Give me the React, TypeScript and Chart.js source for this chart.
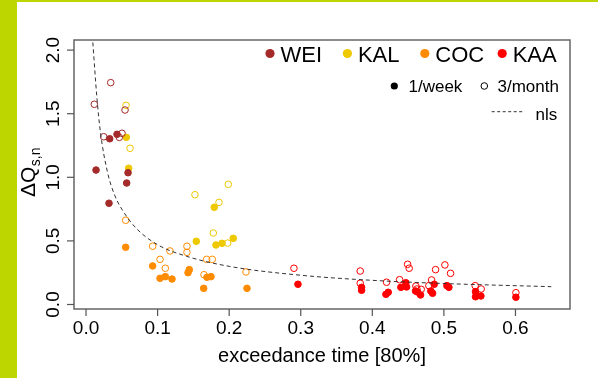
import React, { useEffect, useRef } from "react";
import { Chart, registerables } from "chart.js";

Chart.register(...registerables);

const FONT = '"Liberation Sans", Arial, Helvetica, sans-serif';

// stations and their colours
const SITES = ["WEI", "KAL", "COC", "KAA"];
const SITE_COLORS = ["#A52A2A", "#EEC900", "#FF8C00", "#FF0000"];

// WEI
const weiWeekX = [0.0331, 0.0433, 0.014, 0.0587, 0.0568, 0.0321];
const weiWeekY = [1.303, 1.338, 1.057, 1.036, 0.955, 0.796];
const weiMonthX = [0.0345, 0.0116, 0.0545, 0.0247, 0.0503, 0.0465];
const weiMonthY = [1.744, 1.574, 1.529, 1.319, 1.346, 1.314];

// KAL
const kalWeekX = [0.0563, 0.0596, 0.1792, 0.1541, 0.1816, 0.19, 0.2057];
const kalWeekY = [1.314, 1.071, 0.764, 0.497, 0.468, 0.481, 0.52];
const kalMonthX = [0.0559, 0.0615, 0.1988, 0.1522, 0.1858, 0.1778, 0.1979];
const kalMonthY = [1.566, 1.228, 0.945, 0.863, 0.803, 0.562, 0.483];

// COC
const cocWeekX = [0.0554, 0.0931, 0.1443, 0.1425, 0.1034, 0.1108, 0.1201, 0.169, 0.1746, 0.1644, 0.2249];
const cocWeekY = [0.45, 0.303, 0.274, 0.25, 0.206, 0.219, 0.2, 0.214, 0.219, 0.127, 0.127];
const cocMonthX = [0.0554, 0.0931, 0.1173, 0.141, 0.141, 0.1034, 0.1685, 0.1764, 0.1108, 0.1648, 0.2235];
const cocMonthY = [0.662, 0.458, 0.421, 0.458, 0.41, 0.355, 0.355, 0.355, 0.285, 0.234, 0.256];

// KAA
const kaaWeekX = [
  0.2961, 0.385, 0.385, 0.4222, 0.419, 0.4399, 0.4469, 0.4478, 0.4604, 0.4632,
  0.4674, 0.4865, 0.4818, 0.4842, 0.5042, 0.507, 0.5442, 0.5442, 0.5517, 0.6006,
];
const kaaWeekY = [
  0.159, 0.135, 0.112, 0.096, 0.08, 0.135, 0.171, 0.138, 0.106, 0.098,
  0.075, 0.159, 0.106, 0.088, 0.148, 0.135, 0.101, 0.061, 0.067, 0.057,
];
const kaaMonthX = [
  0.2905, 0.3831, 0.3831, 0.4199, 0.4381, 0.4493, 0.4515, 0.4609, 0.4623,
  0.4683, 0.479, 0.4884, 0.5014, 0.5093, 0.4828, 0.5437, 0.5521, 0.6006,
];
const kaaMonthY = [
  0.285, 0.263, 0.167, 0.175, 0.195, 0.316, 0.285, 0.145, 0.122,
  0.119, 0.148, 0.274, 0.311, 0.245, 0.193, 0.148, 0.122, 0.093,
];

// fitted nls curve
const nlsX = [0.0095, 0.015, 0.02, 0.03, 0.04, 0.05, 0.07, 0.1, 0.14, 0.2, 0.3, 0.4, 0.5, 0.65];
const nlsY = [2.06, 1.64, 1.36, 1.04, 0.86, 0.75, 0.6, 0.47, 0.38, 0.3, 0.23, 0.19, 0.165, 0.14];

const xTicks = [0, 0.1, 0.2, 0.3, 0.4, 0.5, 0.6];
const yTicks = [0, 0.5, 1.0, 1.5, 2.0];

const X_MIN = -0.0168;
const X_MAX = 0.6762;
const Y_MIN = -0.0354;
const Y_MAX = 2.0794;

const zip = (xs: number[], ys: number[]) => xs.map((x, i) => ({ x, y: ys[i] }));

function pointSet(label: string, xs: number[], ys: number[], color: string, filled: boolean) {
  return {
    type: "scatter" as const,
    label,
    data: zip(xs, ys),
    showLine: false,
    pointStyle: "circle",
    pointRadius: 3.3,
    pointHoverRadius: 3.3,
    pointBorderWidth: 1,
    borderColor: color,
    backgroundColor: filled ? color : "rgba(0,0,0,0)",
  };
}

const framePlugin = {
  id: "frame",
  beforeDraw(chart: any) {
    const { ctx, width, height } = chart;
    ctx.save();
    ctx.fillStyle = "#ffffff";
    ctx.fillRect(0, 0, width, height);
    ctx.fillStyle = "#bdd600";
    ctx.fillRect(0, 0, 17, height);
    ctx.fillRect(0, 0, width, 2);
    ctx.restore();
  },
  afterDraw(chart: any) {
    const { ctx, chartArea } = chart;
    const xs = chart.scales.x;
    const ys = chart.scales.y;
    const { left, right, top, bottom } = chartArea;
    ctx.save();

    // plot box
    ctx.strokeStyle = "#666666";
    ctx.lineWidth = 1.5;
    ctx.strokeRect(left, top, right - left, bottom - top);

    // x axis ticks and labels
    ctx.strokeStyle = "#555555";
    ctx.lineWidth = 1.2;
    ctx.fillStyle = "#000000";
    ctx.font = `19px ${FONT}`;
    ctx.textAlign = "center";
    ctx.textBaseline = "alphabetic";
    for (const t of xTicks) {
      const px = xs.getPixelForValue(t);
      ctx.beginPath();
      ctx.moveTo(px, bottom);
      ctx.lineTo(px, bottom + 7);
      ctx.stroke();
      ctx.fillText(t.toFixed(1), px, 333.5);
    }

    // y axis ticks and rotated labels
    for (const t of yTicks) {
      const py = ys.getPixelForValue(t);
      ctx.beginPath();
      ctx.moveTo(left, py);
      ctx.lineTo(left - 7, py);
      ctx.stroke();
      ctx.save();
      ctx.translate(58.5, py);
      ctx.rotate(-Math.PI / 2);
      ctx.fillText(t.toFixed(1), 0, 0);
      ctx.restore();
    }

    // x axis title
    ctx.font = `20px ${FONT}`;
    ctx.fillText("exceedance time [80%]", (left + right) / 2, 361.5);

    // y axis title with subscript
    ctx.save();
    ctx.translate(35, 197);
    ctx.rotate(-Math.PI / 2);
    ctx.textAlign = "left";
    ctx.font = `21px ${FONT}`;
    const main = "\u0394Q";
    ctx.fillText(main, 0, 0);
    const w = ctx.measureText(main).width;
    ctx.font = `14px ${FONT}`;
    ctx.fillText("s,n", w + 0.5, 4.5);
    ctx.restore();

    // legend: stations
    ctx.textAlign = "left";
    ctx.font = `22px ${FONT}`;
    SITES.forEach((s, i) => {
      const cx = 270 + i * 77.4;
      ctx.fillStyle = SITE_COLORS[i];
      ctx.beginPath();
      ctx.arc(cx, 53.5, 4.6, 0, Math.PI * 2);
      ctx.fill();
      ctx.fillStyle = "#000000";
      ctx.fillText(s, cx + 10.5, 62.3);
    });

    // legend: sampling frequency
    ctx.font = `17px ${FONT}`;
    ctx.fillStyle = "#000000";
    ctx.beginPath();
    ctx.arc(394.3, 86, 3.6, 0, Math.PI * 2);
    ctx.fill();
    ctx.fillText("1/week", 408.5, 92.3);
    ctx.strokeStyle = "#000000";
    ctx.lineWidth = 1;
    ctx.beginPath();
    ctx.arc(484.3, 86, 3.3, 0, Math.PI * 2);
    ctx.stroke();
    ctx.fillText("3/month", 497.5, 92.3);

    // legend: fitted curve
    ctx.strokeStyle = "#333333";
    ctx.setLineDash([3, 2.5]);
    ctx.beginPath();
    ctx.moveTo(491.7, 111.7);
    ctx.lineTo(522.7, 111.7);
    ctx.stroke();
    ctx.setLineDash([]);
    ctx.fillText("nls", 535.5, 120);

    ctx.restore();
  },
};

export default function App() {
  const canvasRef = useRef<HTMLCanvasElement | null>(null);

  useEffect(() => {
    const canvas = canvasRef.current;
    if (!canvas) return;
    const chart = new Chart(canvas, {
      type: "scatter",
      data: {
        datasets: [
          {
            type: "line" as const,
            label: "nls",
            data: zip(nlsX, nlsY),
            borderColor: "#333333",
            borderWidth: 1,
            borderDash: [4, 3],
            pointRadius: 0,
            fill: false,
            cubicInterpolationMode: "monotone" as const,
          },
          pointSet("WEI 1/week", weiWeekX, weiWeekY, SITE_COLORS[0], true),
          pointSet("WEI 3/month", weiMonthX, weiMonthY, SITE_COLORS[0], false),
          pointSet("KAL 1/week", kalWeekX, kalWeekY, SITE_COLORS[1], true),
          pointSet("KAL 3/month", kalMonthX, kalMonthY, SITE_COLORS[1], false),
          pointSet("COC 1/week", cocWeekX, cocWeekY, SITE_COLORS[2], true),
          pointSet("COC 3/month", cocMonthX, cocMonthY, SITE_COLORS[2], false),
          pointSet("KAA 1/week", kaaWeekX, kaaWeekY, SITE_COLORS[3], true),
          pointSet("KAA 3/month", kaaMonthX, kaaMonthY, SITE_COLORS[3], false),
        ] as any,
      },
      options: {
        animation: false,
        responsive: false,
        maintainAspectRatio: false,
        events: [],
        layout: { padding: { left: 74, right: 28, top: 40, bottom: 69 } },
        scales: {
          x: { type: "linear", min: X_MIN, max: X_MAX, display: false },
          y: { type: "linear", min: Y_MIN, max: Y_MAX, display: false },
        },
        plugins: {
          legend: { display: false },
          tooltip: { enabled: false },
        },
      },
      plugins: [framePlugin],
    });
    return () => chart.destroy();
  }, []);

  return (
    <div style={{ position: "absolute", left: 0, top: 0, width: 598, height: 378 }}>
      <canvas ref={canvasRef} width={598} height={378} style={{ display: "block", width: 598, height: 378 }} />
    </div>
  );
}
